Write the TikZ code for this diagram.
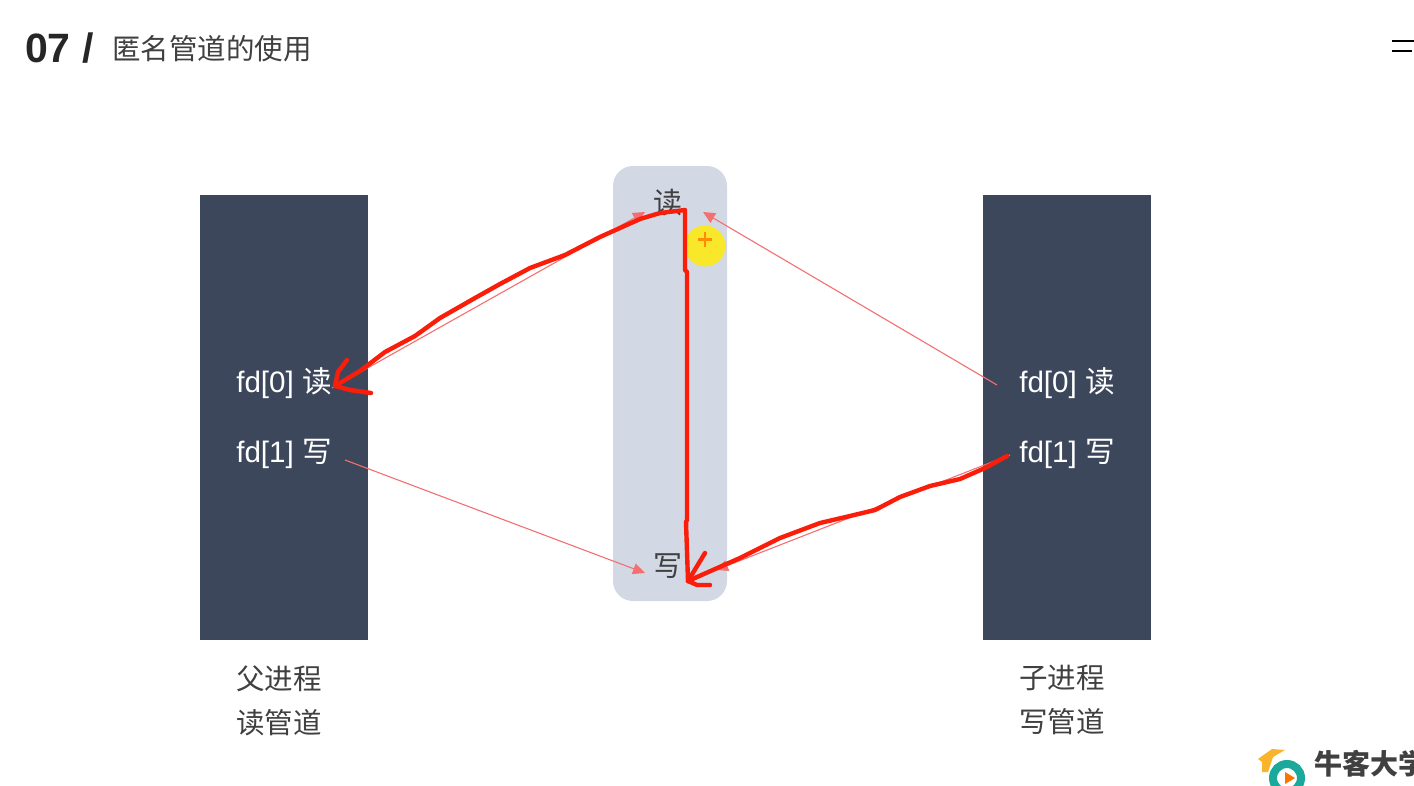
\documentclass[tikz,border=0pt]{standalone}
\usepackage{fontspec}
\setmainfont{Liberation Sans}
\newfontfamily\cjk{Noto Sans CJK SC}
\usepackage{tikz}
\usetikzlibrary{arrows.meta}

\definecolor{slatebox}{HTML}{3D475C}
\definecolor{pipefill}{HTML}{D3D8E5}
\definecolor{thinred}{HTML}{F47070}
\definecolor{penred}{HTML}{FA1E0A}
\definecolor{marker}{HTML}{F9E829}
\definecolor{darktext}{HTML}{404040}
\definecolor{logoteal}{HTML}{1AA99A}
\definecolor{logocap}{HTML}{F9B42B}

\tikzset{
	procbox/.style={fill=slatebox, minimum width=168pt, minimum height=445pt, inner sep=0pt},
	pipebox/.style={fill=pipefill, rounded corners=20pt, minimum width=114pt, minimum height=435pt, inner sep=0pt},
	fdlabel/.style={text=white, font=\fontsize{29.6}{32}\selectfont, inner sep=0pt},
	pipelabel/.style={text=darktext, font=\fontsize{29}{32}\selectfont\cjk, inner sep=0pt},
	rolelabel/.style={text=darktext, font=\fontsize{28.5}{32}\selectfont\cjk, inner sep=0pt},
	thinarrow/.style={draw=thinred, line width=1.1pt, -{Triangle[length=12pt,width=11pt]}},
	penstroke/.style={draw=penred, line width=4.4pt, line cap=round, line join=round}
}

\begin{document}
\begin{tikzpicture}[x=1pt, y=-1pt]
		\path[use as bounding box, clip] (0,0) rectangle (1414,785);
		\fill[white] (0,0) rectangle (1414,785);

		% draw title
		\node[anchor=west, inner sep=0pt, text=black!85, font=\fontsize{41}{44}\selectfont\bfseries] (number) at (25,48) {07 /};
		\node[anchor=west, inner sep=0pt, text=darktext, font=\fontsize{28.5}{32}\selectfont\cjk] (title) at (112,49) {匿名管道的使用};

		% draw window button
		\draw[black, line width=2.2pt] (1392,41) -- (1414,41);
		\draw[black, line width=2.2pt] (1392,51) -- (1412,51);

		% draw boxes
		\node[procbox] (parent) at (284,417.5) {};
		\node[procbox] (child) at (1067,417.5) {};
		\node[pipebox] (pipe) at (670,383.5) {};

		% draw nodes
		\node[fdlabel] (parentread) at (284,383) {fd[0] {\cjk 读}};
		\node[fdlabel] (parentwrite) at (284,454) {fd[1] {\cjk 写}};
		\node[fdlabel] (childread) at (1067,383) {fd[0] {\cjk 读}};
		\node[fdlabel] (childwrite) at (1067,454) {fd[1] {\cjk 写}};
		\node[pipelabel] (piperead) at (668,203) {读};
		\node[pipelabel] (pipewrite) at (668,566) {写};
		\node[rolelabel] (parentname) at (279,679) {父进程};
		\node[rolelabel] (parentuse) at (279,723) {读管道};
		\node[rolelabel] (childname) at (1062,678) {子进程};
		\node[rolelabel] (childuse) at (1062,722) {写管道};

		% draw cursor
		\node[circle, fill=marker, minimum size=41pt, inner sep=0pt] (cursor) at (705,246) {};
		\draw[orange!90!yellow, line width=2.6pt] (705,232) -- (705,247);
		\draw[orange!90!yellow, line width=2.6pt] (698,239.5) -- (712,239.5);

		% draw thin arrows
		\coordinate (prstart) at (332,388);
		\coordinate (prend) at (645,212);
		\coordinate (crstart) at (997,385);
		\coordinate (crend) at (703,212);
		\coordinate (pwstart) at (345,460);
		\coordinate (pwend) at (645,573);
		\coordinate (cwstart) at (1010,455);
		\coordinate (cwend) at (716,570);
		\draw[thinarrow] (prstart) -- (prend);
		\draw[thinarrow] (crstart) -- (crend);
		\draw[thinarrow] (pwstart) -- (pwend);
		\draw[thinarrow] (cwstart) -- (cwend);

		% draw pen strokes
		\coordinate (corner) at (685,210);
		\coordinate (parenttip) at (335,386);
		\coordinate (pipetip) at (688,581);
		\coordinate (childend) at (1007,456);
		\draw[penstroke] (parenttip) -- (360,371) -- (385,352) -- (415,336) -- (440,318) -- (475,298) -- (500,284) -- (530,268) -- (565,255) -- (600,237) -- (640,219) -- (660,213) -- (corner) -- (685,270) -- (687,272) -- (687,520) -- (686,522) -- (pipetip);
		\draw[penstroke] (347,360) -- (338,372) -- (parenttip) -- (350,390) -- (371,393);
		\draw[penstroke] (childend) -- (985,468) -- (960,479) -- (930,486) -- (900,497) -- (875,510) -- (850,516) -- (820,523) -- (780,538) -- (740,558) -- (pipetip);
		\draw[penstroke] (705,553) -- (pipetip) -- (697,585) -- (710,585);

		% draw logo
		\node[anchor=west, inner sep=0pt, text=black!75, font=\fontsize{28}{32}\selectfont\cjk\bfseries] (logotext) at (1314,764) {牛客大学};
		\node[circle, draw=logoteal, line width=8pt, fill=white, minimum size=28pt, inner sep=0pt] (logoring) at (1287,778) {};
		\fill[orange!90!red] (1285,772) -- (1295,778) -- (1285,784) -- cycle;
		\fill[logocap] (1258,759) -- (1272,749) -- (1285,750) -- (1273,757) -- (1268,772) -- (1262,772) -- (1262,762) -- cycle;
	\end{tikzpicture}
\end{document}
